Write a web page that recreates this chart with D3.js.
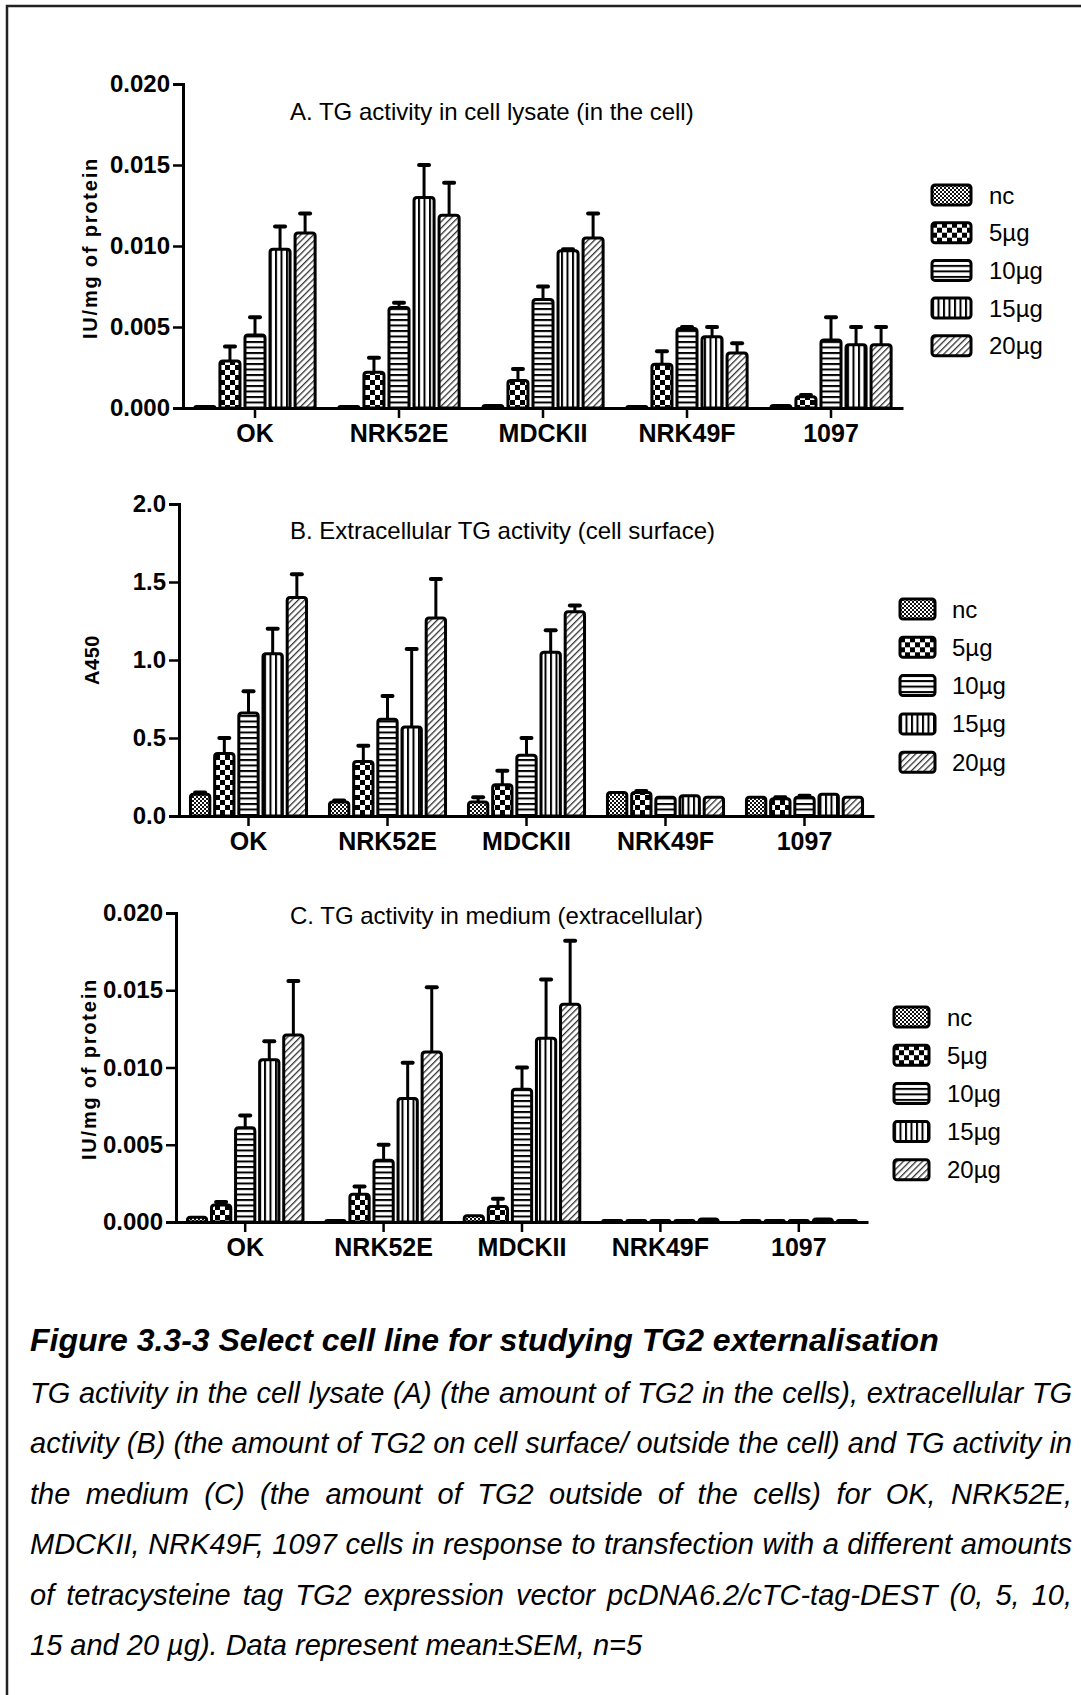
<!DOCTYPE html>
<html>
<head>
<meta charset="utf-8">
<title>TG2 externalisation</title>
<script src="https://cdn.jsdelivr.net/npm/d3@7"></script>
<style>
  body { margin: 0; background: #fff; }
  svg { display: block; font-family: "Liberation Sans", Arial, sans-serif; }
</style>
</head>
<body>
<script>
// categories and dose series
const categories = ["OK", "NRK52E", "MDCKII", "NRK49F", "1097"];
const series = ["nc", "5µg", "10µg", "15µg", "20µg"];

// A. TG activity in cell lysate, IU/mg of protein (rows = cell lines)
const lysateMean = [
  [0.0001, 0.0029, 0.0045, 0.0098, 0.0108],
  [0.0001, 0.0022, 0.0062, 0.0130, 0.0119],
  [0.00015, 0.0017, 0.0067, 0.0097, 0.0105],
  [0.0001, 0.0027, 0.0049, 0.0044, 0.0034],
  [0.00015, 0.0007, 0.0042, 0.0039, 0.0039]
];
const lysateSem = [
  [0, 0.0009, 0.0011, 0.0014, 0.0012],
  [0, 0.0009, 0.0003, 0.0020, 0.0020],
  [0, 0.0007, 0.0008, 0.0001, 0.0015],
  [0, 0.0008, 0.0001, 0.0006, 0.0006],
  [0, 0.0001, 0.0014, 0.0011, 0.0011]
];

// B. Extracellular TG activity (cell surface), A450
const surfaceMean = [
  [0.14, 0.40, 0.66, 1.04, 1.40],
  [0.09, 0.35, 0.62, 0.57, 1.27],
  [0.09, 0.20, 0.39, 1.05, 1.31],
  [0.15, 0.15, 0.12, 0.13, 0.12],
  [0.12, 0.11, 0.12, 0.14, 0.12]
];
const surfaceSem = [
  [0.01, 0.10, 0.14, 0.16, 0.15],
  [0.01, 0.10, 0.15, 0.50, 0.25],
  [0.03, 0.09, 0.11, 0.14, 0.04],
  [0.005, 0.01, 0.005, 0.005, 0.005],
  [0.005, 0.01, 0.01, 0.005, 0]
];

// C. TG activity in medium, IU/mg of protein
const mediumMean = [
  [0.0003, 0.0011, 0.0061, 0.0105, 0.0121],
  [0.0001, 0.0018, 0.0040, 0.0080, 0.0110],
  [0.0004, 0.0010, 0.0086, 0.0119, 0.0141],
  [0.0001, 0.0001, 0.0001, 0.0001, 0.0002],
  [0.0001, 0.0001, 0.0001, 0.0002, 0.0001]
];
const mediumSem = [
  [0, 0.0002, 0.0008, 0.0012, 0.0035],
  [0, 0.0005, 0.0010, 0.0023, 0.0042],
  [0, 0.0005, 0.0014, 0.0038, 0.0041],
  [0, 0, 0, 0, 0],
  [0, 0, 0, 0, 0]
];

const ticksIU = [0, 0.005, 0.010, 0.015, 0.020];
const ticksA450 = [0, 0.5, 1.0, 1.5, 2.0];

const captionTitle = "Figure 3.3-3 Select cell line for studying TG2 externalisation";
const captionLines = [
  "TG activity in the cell lysate (A) (the amount of TG2 in the cells), extracellular TG",
  "activity (B) (the amount of TG2 on cell surface/ outside the cell) and TG activity in",
  "the medium (C) (the amount of TG2 outside of the cells) for OK, NRK52E,",
  "MDCKII, NRK49F, 1097 cells in response to transfection with a different amounts",
  "of tetracysteine tag TG2 expression vector pcDNA6.2/cTC-tag-DEST (0, 5, 10,",
  "15 and 20 µg). Data represent mean±SEM, n=5"
];

const width = 1081, height = 1695;

const svg = d3.select("body").append("svg")
  .attr("width", width)
  .attr("height", height);

// fill patterns, one per dose
const defs = svg.append("defs");
const patIds = ["p-nc", "p-5", "p-10", "p-15", "p-20"];

let p = defs.append("pattern").attr("id", "p-nc").attr("patternUnits", "userSpaceOnUse")
  .attr("width", 4).attr("height", 4);
p.append("rect").attr("width", 4).attr("height", 4).attr("fill", "#fff");
p.append("rect").attr("width", 2).attr("height", 2).attr("fill", "#111");
p.append("rect").attr("x", 2).attr("y", 2).attr("width", 2).attr("height", 2).attr("fill", "#111");

p = defs.append("pattern").attr("id", "p-5").attr("patternUnits", "userSpaceOnUse")
  .attr("width", 10).attr("height", 10);
p.append("rect").attr("width", 10).attr("height", 10).attr("fill", "#fff");
p.append("rect").attr("width", 5).attr("height", 5).attr("fill", "#000");
p.append("rect").attr("x", 5).attr("y", 5).attr("width", 5).attr("height", 5).attr("fill", "#000");

p = defs.append("pattern").attr("id", "p-10").attr("patternUnits", "userSpaceOnUse")
  .attr("width", 6).attr("height", 5.5);
p.append("rect").attr("width", 6).attr("height", 5.5).attr("fill", "#fff");
p.append("rect").attr("width", 6).attr("height", 2).attr("fill", "#000");

p = defs.append("pattern").attr("id", "p-15").attr("patternUnits", "userSpaceOnUse")
  .attr("width", 5.5).attr("height", 6);
p.append("rect").attr("width", 5.5).attr("height", 6).attr("fill", "#fff");
p.append("rect").attr("width", 2).attr("height", 6).attr("fill", "#000");

p = defs.append("pattern").attr("id", "p-20").attr("patternUnits", "userSpaceOnUse")
  .attr("width", 4.5).attr("height", 4.5).attr("patternTransform", "rotate(45)");
p.append("rect").attr("width", 4.5).attr("height", 4.5).attr("fill", "#fff");
p.append("rect").attr("width", 1.3).attr("height", 4.5).attr("fill", "#333");

// frame: only top and left edges fall inside the picture
svg.append("path")
  .attr("d", "M7," + height + "V6H" + width)
  .attr("fill", "none").attr("stroke", "#222").attr("stroke-width", 2.5);

function topRounded(x, y, w, h, r) {
  r = Math.min(r, h, w / 2);
  return "M" + x + "," + (y + h) + "V" + (y + r) +
    "Q" + x + "," + y + " " + (x + r) + "," + y +
    "H" + (x + w - r) + "Q" + (x + w) + "," + y + " " + (x + w) + "," + (y + r) +
    "V" + (y + h) + "Z";
}

function drawPanel(cfg) {
  const g = svg.append("g");

  const x0 = d3.scaleBand().domain(categories).range(cfg.xRange).padding(0);
  const bw = x0.bandwidth();
  const x1 = d3.scaleBand().domain(series).range([-0.4175 * bw, 0.4175 * bw])
    .paddingInner(0.2).paddingOuter(0);
  const y = d3.scaleLinear().domain(cfg.yDomain).range(cfg.yRange);

  const rows = [];
  categories.forEach((c, ci) => {
    series.forEach((s, si) => {
      rows.push({ c, s, si, v: cfg.mean[ci][si], e: cfg.sem[ci][si] });
    });
  });

  const groups = g.selectAll(".bar").data(rows).enter().append("g").attr("class", "bar");

  groups.append("path")
    .attr("d", d => {
      const bx = x0(d.c) + bw / 2 + x1(d.s);
      const top = y(d.v);
      return topRounded(bx, top, x1.bandwidth(), y(0) - top, 3);
    })
    .attr("fill", d => "url(#" + patIds[d.si] + ")")
    .attr("stroke", "#000")
    .attr("stroke-width", 3)
    .attr("stroke-linejoin", "round");

  const errs = groups.filter(d => y(d.v) - y(d.v + d.e) > 1.5);
  errs.append("line")
    .attr("x1", d => x0(d.c) + bw / 2 + x1(d.s) + x1.bandwidth() / 2)
    .attr("x2", d => x0(d.c) + bw / 2 + x1(d.s) + x1.bandwidth() / 2)
    .attr("y1", d => y(d.v))
    .attr("y2", d => y(d.v + d.e))
    .attr("stroke", "#000").attr("stroke-width", 3);
  errs.append("line")
    .attr("x1", d => x0(d.c) + bw / 2 + x1(d.s) + x1.bandwidth() / 2 - 5)
    .attr("x2", d => x0(d.c) + bw / 2 + x1(d.s) + x1.bandwidth() / 2 + 5)
    .attr("y1", d => y(d.v + d.e))
    .attr("y2", d => y(d.v + d.e))
    .attr("stroke", "#000").attr("stroke-width", 4).attr("stroke-linecap", "round");

  // axes
  const yAxis = g.append("g")
    .attr("transform", "translate(" + cfg.xRange[0] + ",0)")
    .call(d3.axisLeft(y).tickValues(cfg.ticks).tickFormat(d3.format(cfg.fmt))
      .tickSize(10).tickSizeOuter(10).tickPadding(3));
  const xAxis = g.append("g")
    .attr("transform", "translate(0," + cfg.yRange[0] + ")")
    .call(d3.axisBottom(x0).tickSize(10).tickSizeOuter(0).tickPadding(6));

  [yAxis, xAxis].forEach(a => {
    a.select(".domain").attr("stroke-width", 3).attr("stroke", "#000");
    a.selectAll(".tick line").attr("stroke-width", 2.5).attr("stroke", "#000");
    a.selectAll(".tick text")
      .attr("font-family", "'Liberation Sans', Arial, sans-serif")
      .attr("font-weight", "bold")
      .attr("fill", "#000");
  });
  yAxis.selectAll(".tick text").attr("font-size", 24);
  xAxis.selectAll(".tick text").attr("font-size", 25);

  // title
  g.append("text")
    .attr("x", 290).attr("y", cfg.titleY)
    .attr("font-size", 24)
    .text(cfg.title);

  // y label
  g.append("text")
    .attr("transform", "translate(" + cfg.yLabelX + "," + cfg.yLabelY + ") rotate(-90)")
    .attr("text-anchor", "middle")
    .attr("font-size", 20)
    .attr("font-weight", "bold")
    .attr("letter-spacing", cfg.yLabelSpacing)
    .text(cfg.yLabel);

  // legend
  const leg = g.append("g").selectAll("g").data(series).enter().append("g")
    .attr("transform", (d, i) => "translate(" + cfg.legX + "," + (cfg.legY + i * cfg.legGap) + ")");
  leg.append("rect")
    .attr("x", 0).attr("y", -10)
    .attr("width", cfg.legW).attr("height", 20)
    .attr("rx", 3)
    .attr("fill", (d, i) => "url(#" + patIds[i] + ")")
    .attr("stroke", "#000").attr("stroke-width", 3);
  leg.append("text")
    .attr("x", cfg.legTextX - cfg.legX)
    .attr("y", 8.5)
    .attr("font-size", 24)
    .text(d => d);
}

drawPanel({
  mean: lysateMean, sem: lysateSem,
  xRange: [183, 903], yDomain: [0, 0.02], yRange: [408, 84],
  ticks: ticksIU, fmt: ".3f",
  title: "A. TG activity in cell lysate (in the cell)", titleY: 120,
  yLabel: "IU/mg of protein", yLabelX: 97, yLabelY: 248, yLabelSpacing: 1.8,
  legX: 932, legY: 195, legGap: 37.7, legW: 39, legTextX: 989
});

drawPanel({
  mean: surfaceMean, sem: surfaceSem,
  xRange: [179, 874], yDomain: [0, 2], yRange: [816, 504],
  ticks: ticksA450, fmt: ".1f",
  title: "B. Extracellular TG activity (cell surface)", titleY: 539,
  yLabel: "A450", yLabelX: 99, yLabelY: 660, yLabelSpacing: 0.5,
  legX: 900, legY: 609, legGap: 38.3, legW: 35, legTextX: 952
});

drawPanel({
  mean: mediumMean, sem: mediumSem,
  xRange: [176, 868], yDomain: [0, 0.02], yRange: [1222, 913],
  ticks: ticksIU, fmt: ".3f",
  title: "C. TG activity in medium (extracellular)", titleY: 924,
  yLabel: "IU/mg of protein", yLabelX: 96, yLabelY: 1069, yLabelSpacing: 1.8,
  legX: 894, legY: 1017, legGap: 38.2, legW: 35, legTextX: 947
});

// caption
svg.append("text")
  .attr("x", 30).attr("y", 1351)
  .attr("font-size", 32)
  .attr("font-weight", "bold")
  .attr("font-style", "italic")
  .text(captionTitle);

const capLeft = 30, capRight = 1072;
captionLines.forEach((line, i) => {
  const t = svg.append("text")
    .attr("x", capLeft).attr("y", 1403 + i * 50.4)
    .attr("font-size", 29)
    .attr("font-style", "italic")
    .text(line);
  if (i < captionLines.length - 1) {
    const natural = t.node().getComputedTextLength();
    const gaps = line.split(" ").length - 1;
    const extra = (capRight - capLeft - natural) / gaps;
    t.style("word-spacing", extra + "px");
  }
});
</script>
</body>
</html>
